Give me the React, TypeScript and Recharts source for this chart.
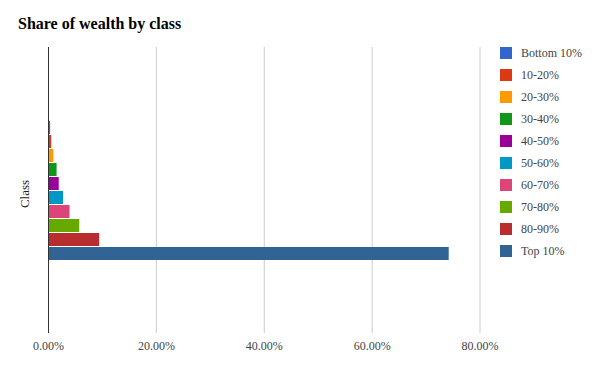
import React from 'react';
import { BarChart, Bar, XAxis, YAxis, CartesianGrid } from 'recharts';

const categories = ['Class'];
const seriesNames = ['Bottom 10%', '10-20%', '20-30%', '30-40%', '40-50%', '50-60%', '60-70%', '70-80%', '80-90%', 'Top 10%'];
const seriesValues = [0.3, 0.5, 0.9, 1.5, 1.9, 2.7, 3.9, 5.7, 9.4, 74.2];
const seriesColors = ['#3366cc', '#dc3912', '#ff9900', '#109618', '#990099', '#0099c6', '#dd4477', '#66aa00', '#b82e2e', '#316395'];
const xTicks = [0, 20, 40, 60, 80];

const data = categories.map((c) => {
  const row: Record<string, any> = { name: c };
  seriesNames.forEach((n, i) => {
    row['s' + i] = seriesValues[i];
  });
  return row;
});

const FONT = '"Liberation Serif", "Times New Roman", serif';

const YLabel = (props: any) => {
  const vb = props.viewBox || { x: 0, y: 47, width: 48.5, height: 286 };
  const cx = 24;
  const cy = vb.y + vb.height / 2 + 4;
  return (
    <text
      x={cx}
      y={cy}
      transform={`rotate(-90 ${cx} ${cy})`}
      textAnchor="middle"
      dominantBaseline="central"
      fontFamily={FONT}
      fontSize={13}
      fill="#222"
    >
      Class
    </text>
  );
};

export default function App() {
  return (
    <div style={{ position: 'absolute', left: 0, top: 0, width: 600, height: 371, background: '#fff', fontFamily: FONT }}>
      <div style={{ position: 'absolute', left: 18, top: 14, fontSize: 16, fontWeight: 'bold', color: '#000', fontFamily: FONT, lineHeight: '20px' }}>
        Share of wealth by class
      </div>
      <BarChart
        width={600}
        height={371}
        data={data}
        layout="vertical"
        margin={{ top: 47, right: 120, left: 0, bottom: 8 }}
        barSize={13}
        barGap={1}
      >
        <CartesianGrid horizontal={false} vertical={true} stroke="#cccccc" />
        <XAxis
          type="number"
          domain={[0, 80]}
          ticks={xTicks}
          tickFormatter={(v: number) => v.toFixed(2) + '%'}
          axisLine={false}
          tickLine={false}
          tick={{ fill: '#444', fontSize: 12, fontFamily: FONT }}
          height={30}
        />
        <YAxis
          type="category"
          dataKey="name"
          width={48.5}
          tick={false}
          tickLine={false}
          axisLine={{ stroke: '#333', strokeWidth: 1 }}
          label={<YLabel />}
        />
        {seriesNames.map((n, i) => (
          <Bar key={n} dataKey={'s' + i} name={n} fill={seriesColors[i]} isAnimationActive={false} />
        ))}
      </BarChart>
      <div style={{ position: 'absolute', left: 500, top: 42, width: 100 }}>
        {seriesNames.map((n, i) => (
          <div key={n} style={{ height: 22, display: 'flex', alignItems: 'center' }}>
            <div style={{ width: 12, height: 12, background: seriesColors[i], marginRight: 9 }} />
            <span style={{ fontSize: 12, color: '#444', fontFamily: FONT }}>{n}</span>
          </div>
        ))}
      </div>
    </div>
  );
}
